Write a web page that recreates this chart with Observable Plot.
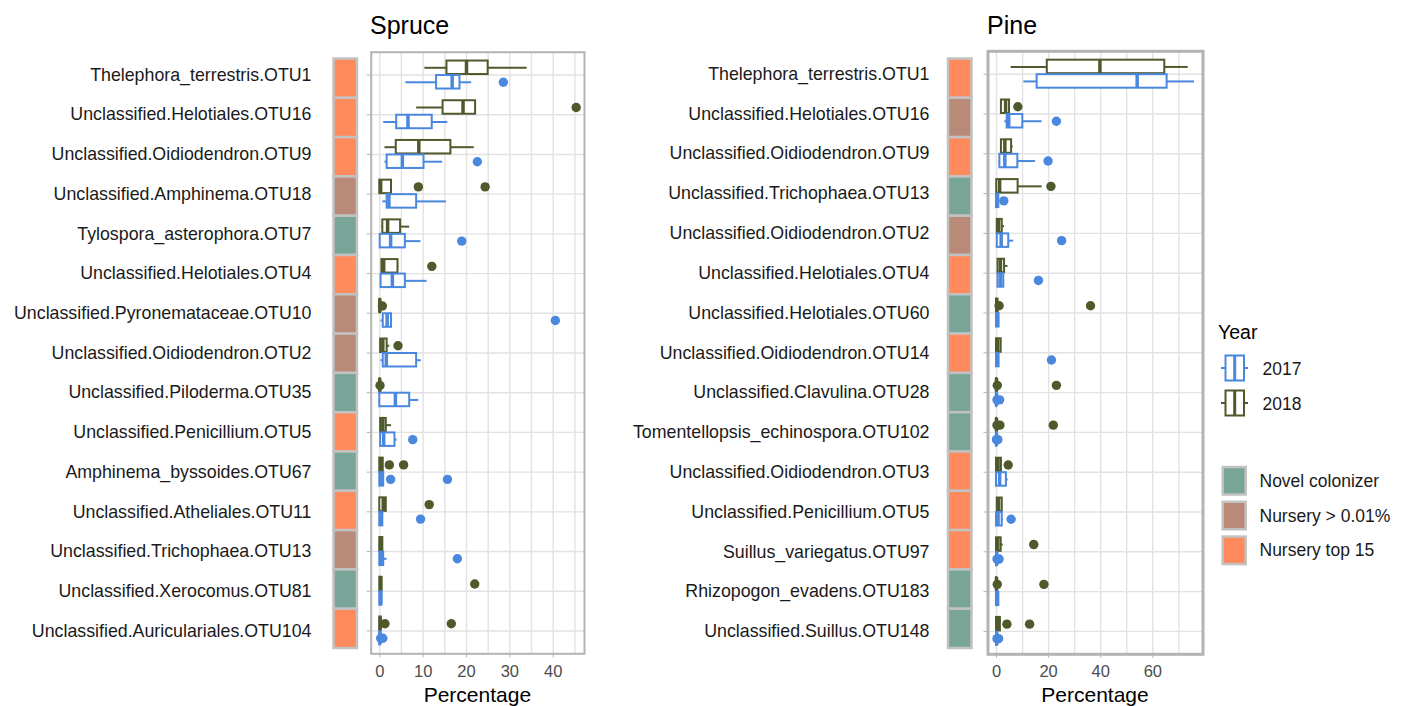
<!DOCTYPE html>
<html>
<head>
<meta charset="utf-8">
<script src="https://cdn.jsdelivr.net/npm/d3@7"></script>
<script src="https://cdn.jsdelivr.net/npm/@observablehq/plot@0.6"></script>
<style>
  html, body { margin: 0; padding: 0; background: #fff; }
  #root { position: relative; width: 1405px; height: 706px; background: #fff; overflow: hidden;
          font-family: "Liberation Sans", Arial, Helvetica, sans-serif; }
  #root > svg, #root > div { position: absolute; }
</style>
</head>
<body>
<div id="root"></div>
<script>
// ---------------- DATA ----------------
const groups = ["Novel colonizer", "Nursery > 0.01%", "Nursery top 15"];
const groupColors = ["#78a597", "#b98a77", "#ff8a5b"];
const years = ["2017", "2018"];
const yearColors = ["#4a87de", "#4e5a2b"];

const spruceTaxa = [
  "Thelephora_terrestris.OTU1", "Unclassified.Helotiales.OTU16", "Unclassified.Oidiodendron.OTU9",
  "Unclassified.Amphinema.OTU18", "Tylospora_asterophora.OTU7", "Unclassified.Helotiales.OTU4",
  "Unclassified.Pyronemataceae.OTU10", "Unclassified.Oidiodendron.OTU2", "Unclassified.Piloderma.OTU35",
  "Unclassified.Penicillium.OTU5", "Amphinema_byssoides.OTU67", "Unclassified.Atheliales.OTU11",
  "Unclassified.Trichophaea.OTU13", "Unclassified.Xerocomus.OTU81", "Unclassified.Auriculariales.OTU104"
];
const spruceGroup = [2, 2, 2, 1, 0, 2, 1, 1, 0, 2, 0, 2, 1, 0, 2];
// [lower whisker, Q1, median, Q3, upper whisker]
const spruce2017 = [
  [6.0, 13.1, 16.7, 18.5, 21.2], [0.9, 3.9, 6.5, 12.1, 15.7], [1.2, 1.7, 5.2, 10.2, 14.5],
  [0.7, 1.7, 2.1, 8.5, 15.4], [0.1, 0.1, 2.5, 5.9, 9.5], [0.3, 0.3, 2.9, 5.9, 10.9],
  [0.3, 0.8, 1.7, 2.7, 2.9], [0.3, 0.8, 1.5, 8.5, 9.6], [0.0, 0.0, 3.6, 6.9, 9.0],
  [0.2, 0.2, 0.9, 3.5, 4.0], [0.0, 0.0, 0.3, 0.9, 0.9], [0.0, 0.0, 0.2, 0.7, 0.7],
  [0.0, 0.0, 0.3, 0.9, 1.7], [0.0, 0.0, 0.2, 0.5, 0.5], [0.0, 0.0, 0.05, 0.1, 0.1]
];
const spruce2018 = [
  [10.4, 15.5, 20.0, 25.0, 34.0], [8.5, 14.6, 19.2, 22.1, 22.1], [1.2, 3.8, 9.0, 16.4, 21.8],
  [0.0, 0.0, 0.2, 2.7, 2.7], [0.5, 0.7, 1.8, 4.8, 6.9], [0.5, 0.5, 0.9, 4.2, 4.4],
  [0.0, 0.0, 0.0, 0.2, 0.3], [0.2, 0.2, 0.7, 1.7, 2.3], [0.0, 0.0, 0.0, 0.1, 0.1],
  [0.2, 0.2, 0.7, 1.5, 2.7], [0.0, 0.0, 0.3, 0.8, 0.8], [0.0, 0.0, 0.8, 1.5, 1.5],
  [0.0, 0.0, 0.2, 0.7, 0.7], [0.0, 0.0, 0.2, 0.5, 0.5], [0.0, 0.0, 0.1, 0.3, 0.3]
];
const spruceOut2017 = [[28.5], [], [22.5], [], [18.9], [], [40.5], [], [], [7.6], [2.5, 15.6], [9.4], [17.9], [], [0.2, 0.7]];
const spruceOut2018 = [[], [45.3], [], [8.9, 24.3], [], [12.0], [0.6], [4.2], [0.05], [], [2.2, 5.5], [11.4], [], [21.9], [1.2, 16.5]];

const pineTaxa = [
  "Thelephora_terrestris.OTU1", "Unclassified.Helotiales.OTU16", "Unclassified.Oidiodendron.OTU9",
  "Unclassified.Trichophaea.OTU13", "Unclassified.Oidiodendron.OTU2", "Unclassified.Helotiales.OTU4",
  "Unclassified.Helotiales.OTU60", "Unclassified.Oidiodendron.OTU14", "Unclassified.Clavulina.OTU28",
  "Tomentellopsis_echinospora.OTU102", "Unclassified.Oidiodendron.OTU3", "Unclassified.Penicillium.OTU5",
  "Suillus_variegatus.OTU97", "Rhizopogon_evadens.OTU183", "Unclassified.Suillus.OTU148"
];
const pineGroup = [2, 1, 2, 0, 1, 2, 0, 2, 0, 0, 2, 2, 2, 0, 0];
const pine2017 = [
  [10.5, 15.6, 54.0, 65.5, 76.0], [3.2, 4.1, 4.7, 10.1, 17.5], [1.0, 1.3, 3.2, 8.2, 15.0],
  [0.0, 0.0, 0.1, 0.9, 0.9], [0.3, 0.3, 1.8, 4.7, 6.6], [0.6, 0.6, 1.5, 2.8, 2.8],
  [0.0, 0.0, 0.3, 1.0, 1.0], [0.0, 0.0, 0.2, 1.0, 1.0], [0.0, 0.0, 0.0, 0.1, 0.2],
  [0.0, 0.0, 0.0, 0.1, 0.2], [0.0, 0.0, 1.2, 3.8, 4.5], [0.0, 0.0, 0.6, 2.2, 2.6],
  [0.0, 0.0, 0.1, 0.3, 0.5], [0.0, 0.0, 0.2, 0.9, 0.9], [0.0, 0.0, 0.1, 0.3, 0.5]
];
const pine2018 = [
  [5.6, 19.5, 39.7, 64.6, 73.6], [1.9, 1.9, 3.5, 5.0, 5.0], [1.9, 1.9, 3.2, 5.8, 6.4],
  [0.1, 0.1, 1.2, 8.3, 17.5], [0.3, 0.3, 0.8, 2.2, 3.1], [0.6, 0.6, 1.5, 3.1, 4.4],
  [0.0, 0.0, 0.1, 0.5, 0.8], [0.0, 0.0, 0.5, 1.8, 1.8], [0.0, 0.0, 0.0, 0.2, 0.3],
  [0.0, 0.0, 0.0, 0.2, 0.3], [0.0, 0.0, 0.6, 1.9, 1.9], [0.3, 0.3, 0.8, 2.2, 2.4],
  [0.0, 0.0, 0.5, 1.8, 2.6], [0.0, 0.0, 0.0, 0.2, 0.3], [0.0, 0.0, 0.5, 1.5, 1.5]
];
const pineOut2017 = [[], [23.0], [19.8], [2.8], [25.0], [16.1], [], [21.1], [0.2, 1.2], [0.0, 0.5], [], [5.6], [0.2, 1.0], [], [0.2, 0.8]];
const pineOut2018 = [[], [8.2], [], [20.9], [], [], [1.0, 36.1], [], [0.3, 23.0], [0.2, 1.3, 21.8], [4.5], [], [14.3], [0.3, 18.2], [4.0, 12.7]];

// ---------------- HELPERS ----------------
const FONT = '"Liberation Sans", Arial, Helvetica, sans-serif';
const root = document.getElementById("root");
const H = 706;
const OUTER = 0.075;

function boxRows(taxa, stats, year) {
  return taxa.map((t, i) => ({taxon: t, year, lo: stats[i][0], q1: stats[i][1], med: stats[i][2], q3: stats[i][3], hi: stats[i][4]}));
}
function outRows(taxa, outs, year) {
  return taxa.flatMap((t, i) => outs[i].map(v => ({taxon: t, year, v})));
}
function place(el, left, top) {
  el.style.left = left + "px";
  el.style.top = top + "px";
  root.appendChild(el);
}

function panel(cfg) {
  const {taxa, b17, b18, o17, o18, domain, major, minorStep, width, mL, mR, mT, mB, frameW, pad} = cfg;
  const step = (H - mT - mB) / (taxa.length + 2 * OUTER);
  const half = step / 2;
  const gridTicks = d3.range(Math.ceil(domain[0] / minorStep) * minorStep, domain[1], minorStep);
  const sets = [
    {box: boxRows(taxa, b18, "2018"), out: outRows(taxa, o18, "2018"), color: yearColors[1], dy: -7.25, iT: half - 14, iB: half + 0.5},
    {box: boxRows(taxa, b17, "2017"), out: outRows(taxa, o17, "2017"), color: yearColors[0], dy: 7.25, iT: half + 0.5, iB: half - 14}
  ];
  const marks = [
    Plot.gridX(gridTicks, {stroke: "#e2e2e2", strokeOpacity: 1, strokeWidth: 1.4}),
    Plot.gridY({stroke: "#e2e2e2", strokeOpacity: 1, strokeWidth: 1.4})
  ];
  for (const s of sets) {
    marks.push(
      Plot.ruleY(s.box, {y: "taxon", x1: "lo", x2: "q1", stroke: s.color, strokeWidth: 2, dy: s.dy}),
      Plot.ruleY(s.box, {y: "taxon", x1: "q3", x2: "hi", stroke: s.color, strokeWidth: 2, dy: s.dy}),
      Plot.barX(s.box, {y: "taxon", x1: "q1", x2: "q3", fill: "white", stroke: s.color, strokeWidth: 2, insetTop: s.iT, insetBottom: s.iB}),
      Plot.tickX(s.box, {y: "taxon", x: "med", stroke: s.color, strokeWidth: 3.5, insetTop: s.iT, insetBottom: s.iB})
    );
  }
  for (const s of sets) {
    marks.push(Plot.dot(s.out, {y: "taxon", x: "v", r: 4.7, fill: s.color, stroke: "none", dy: s.dy}));
  }
  marks.push(
    Plot.frame({stroke: "#b3b3b3", strokeWidth: frameW}),
    Plot.axisX({ticks: major, tickSize: 4, tickPadding: 7, stroke: "#b3b3b3", fill: "#4d4d4d", fontSize: 16.5, label: null}),
    Plot.axisY({tickSize: 4, tickPadding: pad, stroke: "#b3b3b3", fill: "#1a1a1a", fontSize: 17.8, label: null})
  );
  return Plot.plot({
    width, height: H,
    marginLeft: mL, marginRight: mR, marginTop: mT, marginBottom: mB,
    style: {background: "transparent", fontFamily: FONT, overflow: "visible"},
    x: {domain},
    y: {domain: taxa, paddingInner: 0, paddingOuter: OUTER, round: false},
    marks
  });
}

function tiles(taxa, grp, width, mL, mR) {
  const data = taxa.map((t, i) => ({taxon: t, group: groups[grp[i]]}));
  return Plot.plot({
    width, height: H, marginLeft: mL, marginRight: mR, marginTop: 58.5, marginBottom: 58,
    style: {background: "transparent", fontFamily: FONT, overflow: "visible"},
    x: {axis: null, domain: ["tile"], padding: 0, round: false},
    y: {axis: null, domain: taxa, padding: 0, round: false},
    color: {domain: groups, range: groupColors},
    marks: [Plot.cell(data, {x: () => "tile", y: "taxon", fill: "group", stroke: "#c2c2c2", strokeWidth: 2.5})]
  });
}

// ---------------- PANELS ----------------
const spruce = panel({
  taxa: spruceTaxa, b17: spruce2017, b18: spruce2018, o17: spruceOut2017, o18: spruceOut2018,
  domain: [-1.98, 47.22], major: [0, 10, 20, 30, 40], minorStep: 5,
  width: 600, mL: 370.7, mR: 16, mT: 51.7, mB: 52.7, frameW: 2, pad: 55.7
});
place(spruce, 0, 0);
place(tiles(spruceTaxa, spruceGroup, 60, 13.5, 23), 320, 0);

const pine = panel({
  taxa: pineTaxa, b17: pine2017, b18: pine2018, o17: pineOut2017, o18: pineOut2018,
  domain: [-3.26, 79.27], major: [0, 20, 40, 60], minorStep: 10,
  width: 620, mL: 387.5, mR: 17.5, mT: 50.8, mB: 52.2, frameW: 3, pad: 54.5
});
place(pine, 600, 0);
place(tiles(pineTaxa, pineGroup, 60, 8, 28.5), 940, 0);

// ---------------- TEXT + LEGEND ----------------
const svg = d3.create("svg").attr("width", 1405).attr("height", H)
  .style("font-family", FONT).style("pointer-events", "none");
svg.append("text").attr("x", 370).attr("y", 34).attr("font-size", 25).attr("fill", "#000").text("Spruce");
svg.append("text").attr("x", 987).attr("y", 34).attr("font-size", 25).attr("fill", "#000").text("Pine");
svg.append("text").attr("x", 477.4).attr("y", 702).attr("font-size", 21).attr("text-anchor", "middle").attr("fill", "#000").text("Percentage");
svg.append("text").attr("x", 1095).attr("y", 702).attr("font-size", 21).attr("text-anchor", "middle").attr("fill", "#000").text("Percentage");

svg.append("text").attr("x", 1218).attr("y", 338.5).attr("font-size", 19.5).attr("fill", "#000").text("Year");
years.forEach((yr, i) => {
  const cy = 368 + i * 35, c = yearColors[i];
  const g = svg.append("g");
  g.append("line").attr("x1", 1221).attr("x2", 1248).attr("y1", cy).attr("y2", cy).attr("stroke", c).attr("stroke-width", 2);
  g.append("rect").attr("x", 1225.5).attr("y", cy - 12.5).attr("width", 18.5).attr("height", 25).attr("fill", "white").attr("stroke", c).attr("stroke-width", 2);
  g.append("line").attr("x1", 1234.7).attr("x2", 1234.7).attr("y1", cy - 12.5).attr("y2", cy + 12.5).attr("stroke", c).attr("stroke-width", 3);
  g.append("text").attr("x", 1262.5).attr("y", cy + 6.5).attr("font-size", 17.5).attr("fill", "#1a1a1a").text(yr);
});
groups.forEach((gname, i) => {
  const top = 467 + i * 34.8;
  svg.append("rect").attr("x", 1222.7).attr("y", top).attr("width", 23).attr("height", 27.5)
    .attr("fill", groupColors[i]).attr("stroke", "#c2c2c2").attr("stroke-width", 2.5);
  svg.append("text").attr("x", 1259.5).attr("y", top + 19.7).attr("font-size", 17.5).attr("fill", "#1a1a1a").text(gname);
});
place(svg.node(), 0, 0);
</script>
</body>
</html>
